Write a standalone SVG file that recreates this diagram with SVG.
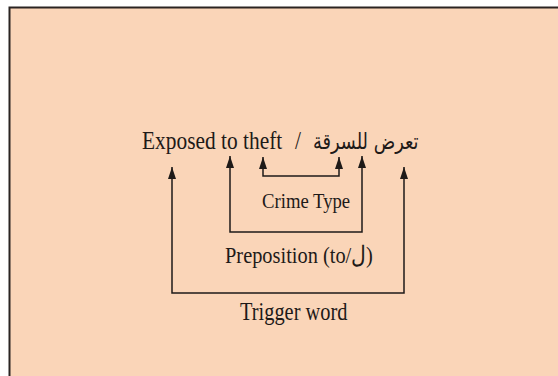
<svg xmlns="http://www.w3.org/2000/svg" width="558" height="376" viewBox="0 0 558 376">
  <defs>
    <marker id="arrow" viewBox="0 0 12 8" refX="12" refY="4" markerWidth="12" markerHeight="8" markerUnits="userSpaceOnUse" orient="auto-start-reverse">
      <path d="M0,0 L12,4 L0,8 z" fill="#1e1a18"/>
    </marker>
  </defs>
  <style>
    .lbl { font-family: "Liberation Serif", "DejaVu Serif", serif; fill: #1e1a18; }
    .ar { font-family: "DejaVu Sans", "Noto Sans", sans-serif; fill: #1e1a18; }
    .link { fill: none; stroke: #1e1a18; stroke-width: 1.5; marker-start: url(#arrow); marker-end: url(#arrow); }
  </style>

  <!-- page background and frame -->
  <rect x="0" y="0" width="558" height="376" fill="#ffffff"/>
  <rect x="9.5" y="7.5" width="600" height="400" fill="#fad5b8" stroke="#2a2422" stroke-width="2"/>

  <!-- the phrase being annotated (narrow, tall lettering) -->
  <g id="phrase">
    <text class="lbl" transform="translate(142,149) scale(1,1.17)" font-size="21.4">Exposed to theft</text>
    <text class="lbl" transform="translate(295,149) scale(1,1.17)" font-size="21.4">/</text>
    <text class="ar" transform="translate(313,149) scale(1,1.25)" font-size="17.8">تعرض للسرقة</text>
  </g>

  <!-- bracket connectors -->
  <g id="connectors">
    <path id="crime-link" class="link" d="M263,157 V176 H339 V157"/>
    <path id="prep-link" class="link" d="M230,156 V232 H362 V156"/>
    <path id="trigger-link" class="link" d="M172,167 V293 H404 V167"/>
  </g>

  <g id="crime-type">
    <text class="lbl" transform="translate(262,208) scale(1,1.07)" font-size="18.7">Crime Type</text>
  </g>
  <g id="preposition">
    <text class="lbl" transform="translate(225,263) scale(1,1.18)" font-size="20.4">Preposition (to/ل)</text>
  </g>
  <g id="trigger-word">
    <text class="lbl" transform="translate(240,320) scale(1,1.22)" font-size="20.4">Trigger word</text>
  </g>
</svg>
